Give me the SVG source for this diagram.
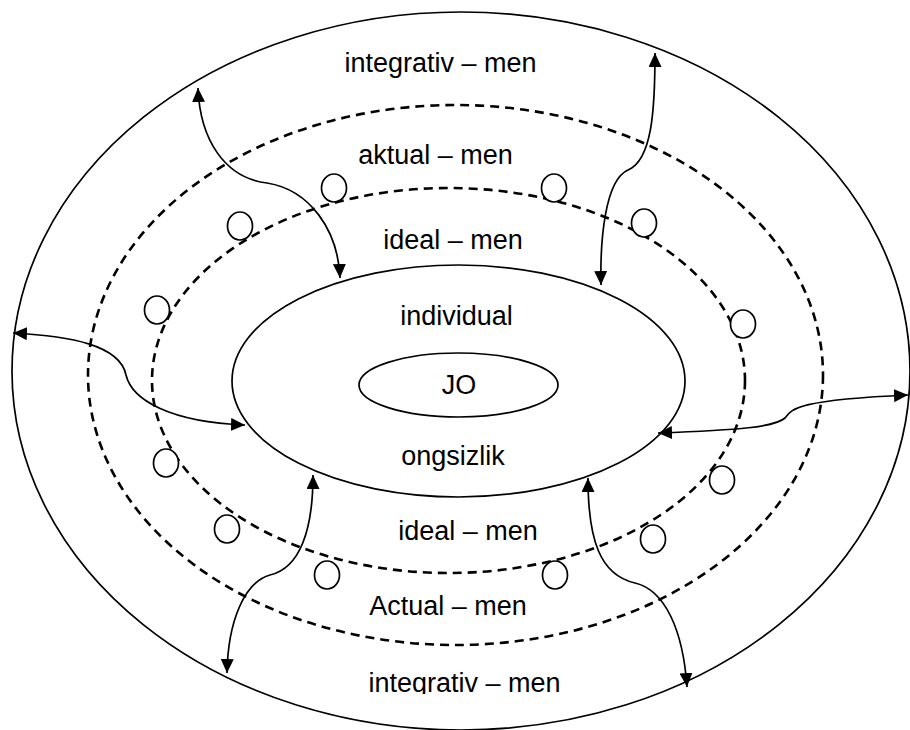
<svg xmlns="http://www.w3.org/2000/svg" width="910" height="730" viewBox="0 0 910 730">
<style>
.solid{fill:none;stroke:#000;stroke-width:1.7}
.dash{fill:none;stroke:#000;stroke-width:2.6;stroke-dasharray:9 6}
.dot{fill:#fff;stroke:#000;stroke-width:1.7}
.conn{fill:none;stroke:#000;stroke-width:1.7;marker-start:url(#ah);marker-end:url(#ah)}
text{font-family:"Liberation Sans",Arial,sans-serif;font-size:27px;fill:#000;text-anchor:middle}
</style>
<defs>
<marker id="ah" viewBox="0 0 14 13" refX="14" refY="6.5" markerWidth="14" markerHeight="13" markerUnits="userSpaceOnUse" orient="auto-start-reverse">
<path d="M0,0 L14,6.5 L0,13 z" fill="#000"/>
</marker>
<clipPath id="clipBottom"><rect x="0" y="0" width="910" height="694"/></clipPath>
</defs>
<rect width="910" height="730" fill="#fff"/>
<g id="outer-ring"><ellipse class="solid" cx="461" cy="371" rx="449" ry="359"/></g>
<g id="actual-ring"><ellipse class="dash" cx="455.5" cy="375" rx="367.5" ry="270"/></g>
<g id="ideal-ring"><ellipse class="dash" cx="448.5" cy="380.5" rx="296.5" ry="192.5"/></g>
<g id="individual"><ellipse class="solid" cx="458.5" cy="381" rx="226.5" ry="116"/></g>
<g id="jo"><ellipse class="solid" cx="458.5" cy="385" rx="99.5" ry="32"/><text x="459" y="394">JO</text></g>
<g id="circles">
<ellipse class="dot" cx="334" cy="188" rx="12.5" ry="14"/>
<ellipse class="dot" cx="240" cy="226" rx="12.5" ry="14"/>
<ellipse class="dot" cx="157" cy="310" rx="12.5" ry="14"/>
<ellipse class="dot" cx="554" cy="188" rx="12.5" ry="14"/>
<ellipse class="dot" cx="644" cy="223" rx="12.5" ry="14"/>
<ellipse class="dot" cx="743" cy="324" rx="12.5" ry="14"/>
<ellipse class="dot" cx="166" cy="463" rx="12.5" ry="14"/>
<ellipse class="dot" cx="227" cy="529" rx="12.5" ry="14"/>
<ellipse class="dot" cx="327" cy="575" rx="12.5" ry="14"/>
<ellipse class="dot" cx="722" cy="480" rx="12.5" ry="14"/>
<ellipse class="dot" cx="653" cy="539" rx="12.5" ry="14"/>
<ellipse class="dot" cx="555" cy="575" rx="12.5" ry="14"/>
</g>
<g id="connectors">
<path class="conn" d="M198,88 C200,140 225,178 267,183 C310,190 338,230 340,278"/>
<path class="conn" d="M655,53 C655,110 652,160 628,170 C605,180 600,240 601,285"/>
<path class="conn" d="M13,333 C70,336 120,345 126,375 C132,400 170,422 245,425"/>
<path class="conn" d="M658,433 C740,430 775,427 785,418 C792,408 800,400 908,395"/>
<path class="conn" d="M313,475 C313,530 300,568 270,575 C245,582 228,620 227,673"/>
<path class="conn" d="M588,478 C588,540 600,575 635,583 C665,590 683,630 687,687"/>
</g>
<g id="labels">
<text x="440.5" y="72">integrativ – men</text>
<text x="435.5" y="164">aktual – men</text>
<text x="453" y="249">ideal – men</text>
<text x="456.5" y="325">individual</text>
<text x="453" y="465">ongsizlik</text>
<text x="468" y="540">ideal – men</text>
<text x="448" y="615">Actual – men</text>
<text x="464.5" y="692" clip-path="url(#clipBottom)">integrativ – men</text>
</g>
</svg>
